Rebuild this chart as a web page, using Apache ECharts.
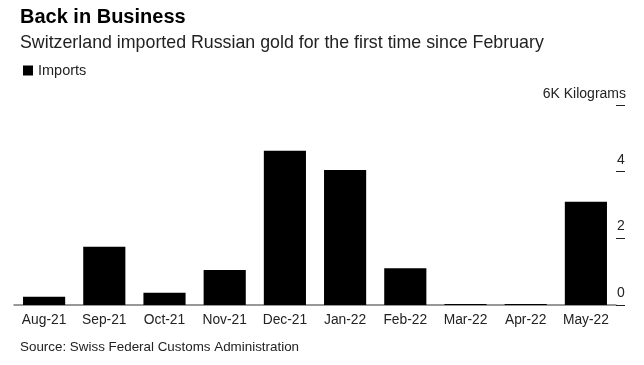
<!DOCTYPE html>
<html><head><meta charset="utf-8">
<script src="https://cdn.jsdelivr.net/npm/echarts@6/dist/echarts.min.js"></script>
<style>html,body{margin:0;padding:0;background:#fff}#c{width:644px;height:365px}</style>
</head><body><div id="c"></div>
<script>
const categories = ['Aug-21','Sep-21','Oct-21','Nov-21','Dec-21','Jan-22','Feb-22','Mar-22','Apr-22','May-22'];
const imports = [0.25, 1.75, 0.37, 1.05, 4.63, 4.05, 1.1, 0.03, 0.03, 3.1];
const yTicks = [0, 2, 4, 6];
const titleText = 'Back in Business';
const subtitleText = 'Switzerland imported Russian gold for the first time since February';
const unitText = '6K Kilograms';
const sourceText = 'Source: Swiss Federal Customs Administration';
const seriesName = 'Imports';

const font = 'Arial, "Liberation Sans", Helvetica, sans-serif';
const chart = echarts.init(document.getElementById('c'), null, {renderer:'canvas'});
chart.setOption({
  animation: false,
  backgroundColor: '#fff',
  textStyle: {fontFamily: font},
  title: [
    {text: titleText, left: 15, top: 2, textStyle: {fontSize: 20, fontWeight: 'bold', color: '#000', fontFamily: font}},
    {text: subtitleText, left: 15, top: 29, textStyle: {fontSize: 17.8, fontWeight: 'normal', color: '#222', fontFamily: font}},
    {text: unitText, right: 13, top: 82, textStyle: {fontSize: 14, fontWeight: 'normal', color: '#222', fontFamily: font}},
    {text: sourceText, left: 15, top: 336, textStyle: {fontSize: 13.4, fontWeight: 'normal', color: '#222', fontFamily: font}}
  ],
  legend: {
    left: 18, top: 58, itemWidth: 10, itemHeight: 10,
    icon: 'rect',
    textStyle: {fontSize: 14.5, color: '#222'},
    data: [seriesName]
  },
  grid: {left: 14, right: 28, top: 105, bottom: 60},
  xAxis: {
    type: 'category', data: categories,
    axisLine: {lineStyle: {color: '#777', width: 1.5}},
    axisTick: {show: false},
    axisLabel: {fontSize: 13.8, color: '#222', margin: 8, interval: 0}
  },
  yAxis: {
    type: 'value', position: 'right', min: 0, max: 6, interval: 2,
    splitLine: {show: false},
    axisLine: {show: false},
    axisTick: {show: true, length: 9, lineStyle: {color: '#222'}},
    axisLabel: {
      fontSize: 14, color: '#222', margin: 5, align: 'center', verticalAlign: 'bottom',
      padding: [0,0,5,0],
      formatter: v => (yTicks.includes(v) && v !== 6) ? String(v) : ''
    }
  },
  series: [{
    name: seriesName, type: 'bar', data: imports,
    barCategoryGap: '30%',
    itemStyle: {color: '#000'}
  }]
});
</script></body></html>
